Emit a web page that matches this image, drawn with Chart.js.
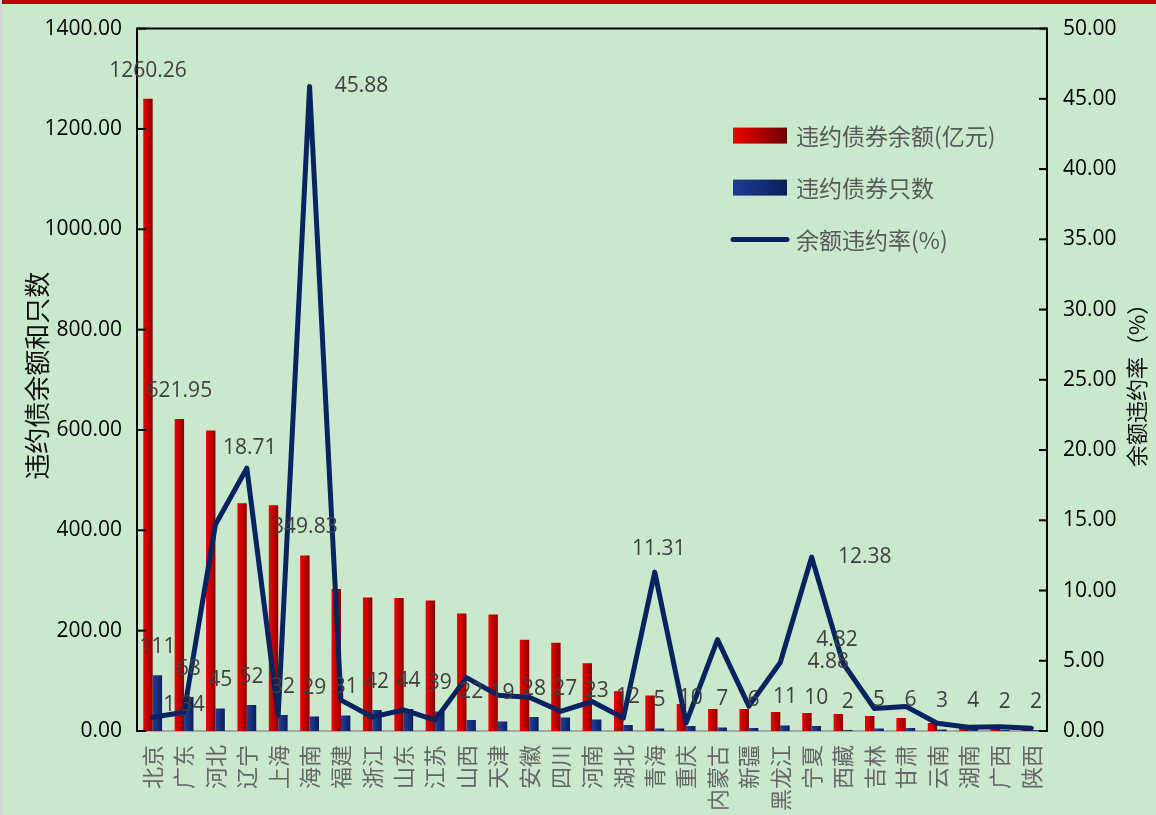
<!DOCTYPE html>
<html>
<head>
<meta charset="utf-8">
<script src="https://cdn.jsdelivr.net/npm/chart.js@4.4.0/dist/chart.umd.min.js"></script>
<style>
  html, body { margin: 0; padding: 0; background: #c9e8cc; overflow: hidden; }
  #wrap { position: relative; width: 1156px; height: 815px; }
</style>
</head>
<body>
<div id="wrap"><canvas id="chart"></canvas></div>
<script>
// 各省违约债券数据
const provinces = ['北京', '广东', '河北', '辽宁', '上海', '海南', '福建', '浙江', '山东', '江苏',
    '山西', '天津', '安徽', '四川', '河南', '湖北', '青海', '重庆', '内蒙古', '新疆',
    '黑龙江', '宁夏', '西藏', '吉林', '甘肃', '云南', '湖南', '广西', '陕西'];
const balance = [1260.26, 621.95, 599, 454, 450, 349.83, 283, 266, 265, 260,
    234, 232, 182, 176, 135, 79, 71, 54, 44, 44,
    38, 36, 34, 30, 26, 16, 12, 5, 3];
const counts = [111, 68, 45, 52, 32, 29, 31, 42, 44, 39,
    22, 19, 28, 27, 23, 12, 5, 10, 7, 6,
    11, 10, 2, 5, 6, 3, 4, 2, 2];
const rate = [0.98, 1.34, 14.7, 18.71, 1.13, 45.88, 2.2, 1.0, 1.5, 0.78,
    3.8, 2.55, 2.4, 1.4, 2.1, 0.92, 11.31, 0.57, 6.5, 1.77,
    4.88, 12.38, 4.82, 1.6, 1.75, 0.55, 0.27, 0.3, 0.2];

const leftMax = 1400, leftStep = 200;
const rightMax = 50, rightStep = 5;

const seriesNames = ['违约债券余额(亿元)', '违约债券只数', '余额违约率(%)'];

const numFont = "'Open Sans', 'Noto Sans CJK SC', sans-serif";
const cjkFont = "'Noto Sans CJK SC', sans-serif";
const navy = '#08235f';

// 柱子横向渐变
function barFill(ctx, c1, c2, side) {
    const chart = ctx.chart;
    const xs = chart.scales.x;
    if (ctx.type !== 'data' || !xs || !chart.chartArea) return c1;
    const center = xs.getPixelForValue(ctx.dataIndex);
    const w = xs.width / provinces.length * 0.6 / 2;
    const x0 = side < 0 ? center - w : center;
    const g = chart.ctx.createLinearGradient(x0, 0, x0 + w, 0);
    g.addColorStop(0, c1);
    g.addColorStop(1, c2);
    return g;
}

// 折线标签的位置
const rateLabelAt = {
    1: [0, -7], 3: [3, -20], 5: [52, 0], 16: [4, -23],
    20: [48, 0], 21: [53, 0], 22: [-6, -23]
};
const balanceLabelIdx = [0, 1, 5];

const decor = {
    id: 'decor',
    beforeDraw(chart) {
        const c = chart.ctx;
        c.save();
        c.fillStyle = '#c9e8cc';
        c.fillRect(0, 0, chart.width, chart.height);
        c.fillStyle = '#c00000';
        c.fillRect(0, 0, chart.width, 4);
        c.fillStyle = '#d4d4d4';
        c.fillRect(0, 0, 2, chart.height);
        c.restore();
    },
    afterDatasetsDraw(chart) {
        const c = chart.ctx;
        c.save();
        c.font = '21px ' + numFont;
        c.fillStyle = '#404040';
        c.textAlign = 'center';
        c.textBaseline = 'middle';
        const redMeta = chart.getDatasetMeta(1);
        balanceLabelIdx.forEach(i => {
            const el = redMeta.data[i];
            c.fillText(balance[i].toFixed(2), el.x, el.y - 28);
        });
        const blueMeta = chart.getDatasetMeta(2);
        blueMeta.data.forEach((el, i) => {
            c.fillText(String(counts[i]), el.x, el.y - 28);
        });
        const lineMeta = chart.getDatasetMeta(0);
        Object.keys(rateLabelAt).forEach(k => {
            const i = +k;
            const el = lineMeta.data[i];
            const [dx, dy] = rateLabelAt[k];
            c.fillText(rate[i].toFixed(2), el.x + dx, el.y + dy);
        });
        c.restore();
    },
    afterDraw(chart) {
        const c = chart.ctx;
        const a = chart.chartArea;
        c.save();
        // 上边框
        c.strokeStyle = '#000';
        c.lineWidth = 2;
        c.beginPath();
        c.moveTo(a.left - 1, a.top);
        c.lineTo(a.right + 1, a.top);
        c.stroke();
        // 刻度线朝内
        const ys = chart.scales.y, y1 = chart.scales.y1;
        ys.ticks.forEach(t => {
            const y = ys.getPixelForValue(t.value);
            c.beginPath(); c.moveTo(a.left, y); c.lineTo(a.left + 9, y); c.stroke();
        });
        y1.ticks.forEach(t => {
            const y = y1.getPixelForValue(t.value);
            c.beginPath(); c.moveTo(a.right, y); c.lineTo(a.right - 8, y); c.stroke();
        });
        // 坐标轴标题
        const midY = (a.top + a.bottom) / 2;
        c.fillStyle = '#111';
        c.textAlign = 'center';
        c.textBaseline = 'middle';
        c.save();
        c.translate(37, midY - 4);
        c.rotate(-Math.PI / 2);
        c.font = '26px ' + cjkFont;
        c.fillText('违约债余额和只数', 0, 0);
        c.restore();
        c.save();
        c.translate(1137, midY);
        c.rotate(-Math.PI / 2);
        c.font = '22px ' + cjkFont;
        c.fillText('余额违约率（%）', 0, 0);
        c.restore();
        // 图例
        const lx = a.left + 596, ly = a.top + 107, gap = 52;
        let g = c.createLinearGradient(lx, 0, lx + 54, 0);
        g.addColorStop(0, '#f00000'); g.addColorStop(1, '#6e0000');
        c.fillStyle = g;
        c.fillRect(lx, ly - 8, 54, 16);
        g = c.createLinearGradient(lx, 0, lx + 54, 0);
        g.addColorStop(0, '#1e3c96'); g.addColorStop(1, '#0a1f5a');
        c.fillStyle = g;
        c.fillRect(lx, ly + gap - 8, 54, 16);
        c.strokeStyle = navy;
        c.lineWidth = 5;
        c.lineCap = 'round';
        c.beginPath();
        c.moveTo(lx, ly + gap * 2);
        c.lineTo(lx + 54, ly + gap * 2);
        c.stroke();
        c.fillStyle = '#595959';
        c.font = '23px ' + cjkFont;
        c.textAlign = 'left';
        seriesNames.forEach((n, i) => c.fillText(n, lx + 63, ly + gap * i + 1));
        c.restore();
    }
};

document.addEventListener('DOMContentLoaded', () => {
    const ctx = document.getElementById('chart').getContext('2d');
    new Chart(ctx, {
        type: 'bar',
        data: {
            labels: provinces,
            datasets: [{
                type: 'line',
                label: seriesNames[2],
                data: rate,
                yAxisID: 'y1',
                borderColor: navy,
                borderWidth: 5,
                borderJoinStyle: 'round',
                borderCapStyle: 'round',
                pointRadius: 0,
                tension: 0,
                order: 0
            }, {
                label: seriesNames[0],
                data: balance,
                yAxisID: 'y',
                backgroundColor: ctx => barFill(ctx, '#f20000', '#8a0000', -1),
                categoryPercentage: 0.6,
                barPercentage: 1,
                order: 1
            }, {
                label: seriesNames[1],
                data: counts,
                yAxisID: 'y',
                backgroundColor: ctx => barFill(ctx, '#21409c', '#0a1f5a', 1),
                categoryPercentage: 0.6,
                barPercentage: 1,
                order: 2
            }]
        },
        options: {
            responsive: true,
            maintainAspectRatio: false,
            animation: false,
            layout: {
                padding: { top: 25, left: 0, right: 0, bottom: 0 }
            },
            plugins: {
                legend: { display: false },
                tooltip: { enabled: false }
            },
            scales: {
                x: {
                    grid: { display: false, drawTicks: false },
                    border: { color: '#a6a6a6', width: 2 },
                    ticks: {
                        minRotation: 90,
                        maxRotation: 90,
                        autoSkip: false,
                        padding: 14,
                        color: '#666666',
                        font: { family: cjkFont, size: 22 }
                    },
                    afterFit(s) { s.height = 84; }
                },
                y: {
                    position: 'left',
                    min: 0,
                    max: leftMax,
                    grid: { display: false, drawTicks: false },
                    border: { color: '#000', width: 2 },
                    ticks: {
                        stepSize: leftStep,
                        padding: 15,
                        color: '#000',
                        font: { family: numFont, size: 21 },
                        callback: v => v.toFixed(2)
                    },
                    afterFit(s) { s.width = 137; }
                },
                y1: {
                    position: 'right',
                    min: 0,
                    max: rightMax,
                    grid: { display: false, drawTicks: false },
                    border: { color: '#000', width: 2 },
                    ticks: {
                        stepSize: rightStep,
                        padding: 16,
                        color: '#000',
                        font: { family: numFont, size: 21 },
                        callback: v => v.toFixed(2)
                    },
                    afterFit(s) { s.width = 109; }
                }
            }
        },
        plugins: [decor]
    });
});
</script>
</body>
</html>
